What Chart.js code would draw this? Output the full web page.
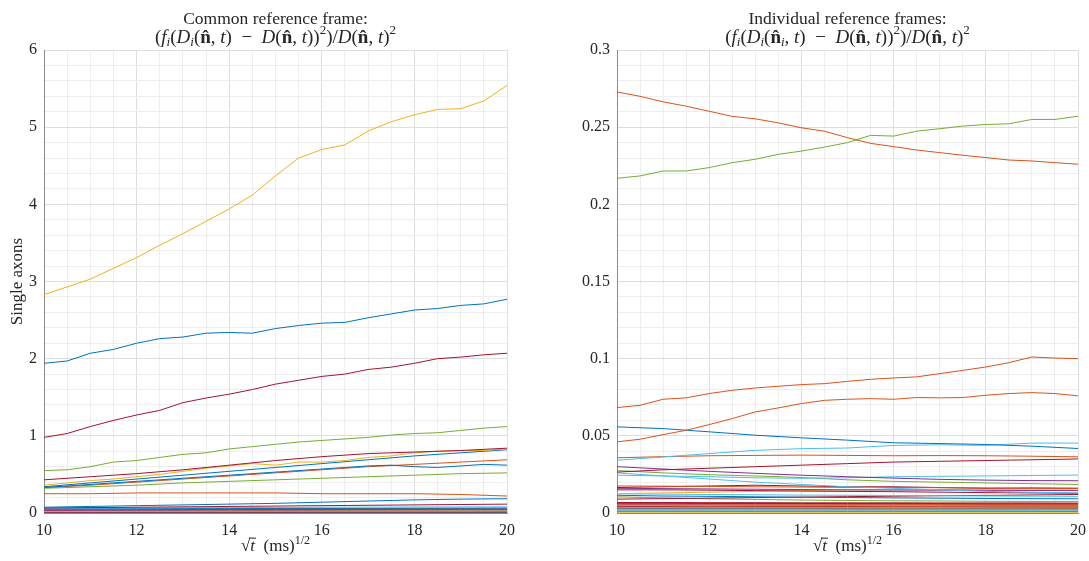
<!DOCTYPE html>
<html>
<head>
<meta charset="utf-8">
<script src="https://cdn.jsdelivr.net/npm/chart.js@4"></script>
<style>
  body { margin: 0; background: #fff; }
  .panel { position: absolute; top: 0; height: 561px; }
</style>
</head>
<body>
<div class="panel" style="left:0;width:545px"><canvas id="leftPlot"></canvas></div>
<div class="panel" style="left:545px;width:544px"><canvas id="rightPlot"></canvas></div>
<script>
// x values (sqrt t), fine grid for the wiggly lines and a coarse one for the flat ones
const xsFine = [10,10.5,11,11.5,12,12.5,13,13.5,14,14.5,15,15.5,16,16.5,17,17.5,18,18.5,19,19.5,20];
const xsCoarse = [10,11,12,13,14,15,16,17,18,19,20];

// left panel: common reference frame
const leftYellowTop = [2.83,2.93,3.03,3.17,3.31,3.47,3.62,3.78,3.94,4.12,4.37,4.60,4.71,4.77,4.95,5.07,5.16,5.23,5.24,5.34,5.54];
const leftBlueTop = [1.94,1.97,2.07,2.12,2.20,2.26,2.28,2.33,2.34,2.33,2.39,2.43,2.46,2.47,2.53,2.58,2.63,2.65,2.69,2.71,2.77];
const leftRedTop = [0.98,1.03,1.12,1.20,1.27,1.33,1.43,1.49,1.54,1.60,1.67,1.72,1.77,1.80,1.86,1.89,1.94,2.00,2.02,2.05,2.07];
const leftGreenTop = [0.55,0.56,0.60,0.66,0.68,0.72,0.76,0.78,0.83,0.86,0.89,0.92,0.94,0.96,0.98,1.01,1.03,1.04,1.07,1.10,1.12];
const leftYellowMid = [0.36,0.39,0.42,0.44,0.47,0.50,0.54,0.58,0.61,0.64,0.62,0.66,0.66,0.68,0.72,0.74,0.78,0.80,0.81,0.81,0.83];
const leftBlueMid2 = [0.33,0.35,0.37,0.39,0.41,0.43,0.45,0.47,0.49,0.51,0.53,0.55,0.57,0.59,0.61,0.62,0.60,0.59,0.61,0.63,0.62];
const leftRedMid = [0.43,0.47,0.51,0.56,0.62,0.68,0.73,0.77,0.79,0.81,0.84];
const leftBlueMid1 = [0.34,0.39,0.44,0.49,0.54,0.59,0.64,0.69,0.74,0.78,0.82];
const leftOrangeMid = [0.33,0.36,0.40,0.44,0.48,0.52,0.56,0.60,0.63,0.66,0.69];
const leftGreenMid = [0.32,0.34,0.36,0.39,0.41,0.43,0.45,0.47,0.49,0.51,0.52];
const leftOrangeFlat = [0.25,0.25,0.26,0.26,0.26,0.26,0.25,0.25,0.25,0.24,0.22];
const leftBlueLow = [0.075,0.085,0.095,0.105,0.115,0.125,0.14,0.155,0.17,0.18,0.185];
const leftRedLow = [0.065,0.07,0.075,0.08,0.085,0.09,0.095,0.10,0.105,0.11,0.115];
const leftBundle = [
  [0.062,0.064,0.066,0.068,0.070,0.072,0.074,0.076,0.078,0.079,0.080],
  [0.055,0.056,0.057,0.058,0.059,0.060,0.060,0.061,0.062,0.062,0.063],
  [0.048,0.050,0.051,0.053,0.054,0.056,0.057,0.058,0.060,0.061,0.062],
  [0.042,0.043,0.044,0.045,0.046,0.047,0.048,0.049,0.050,0.051,0.052],
  [0.035,0.036,0.036,0.037,0.038,0.038,0.039,0.040,0.040,0.041,0.041],
  [0.028,0.029,0.030,0.031,0.032,0.032,0.033,0.034,0.035,0.036,0.037],
  [0.022,0.022,0.023,0.023,0.024,0.024,0.025,0.025,0.026,0.026,0.027],
  [0.016,0.016,0.017,0.017,0.017,0.018,0.018,0.018,0.019,0.019,0.019],
  [0.011,0.011,0.012,0.012,0.012,0.012,0.013,0.013,0.013,0.013,0.014],
  [0.007,0.007,0.007,0.008,0.008,0.008,0.008,0.008,0.009,0.009,0.009],
  [0.004,0.004,0.004,0.004,0.005,0.005,0.005,0.005,0.005,0.005,0.005],
  [0.002,0.002,0.002,0.002,0.002,0.002,0.002,0.003,0.003,0.003,0.003],
  [0.001,0.001,0.001,0.001,0.001,0.001,0.001,0.001,0.001,0.001,0.001]
];
const leftBundleColors = ['#4DBEEE','#0072BD','#D95319','#A2142F','#7E2F8E','#EDB120','#4DBEEE','#D95319','#A2142F','#0072BD','#EDB120','#77AC30','#77AC30'];

// right panel: individual reference frames
const rightOrangeTop = [0.2728,0.2700,0.2664,0.2636,0.2603,0.2570,0.2554,0.2528,0.2496,0.2474,0.2432,0.2395,0.2374,0.2352,0.2335,0.2318,0.2303,0.2287,0.2281,0.2270,0.2260];
const rightGreenTop = [0.2169,0.2184,0.2216,0.2216,0.2238,0.2270,0.2292,0.2324,0.2345,0.2371,0.2400,0.2447,0.2442,0.2474,0.2490,0.2507,0.2517,0.2522,0.2550,0.2550,0.2571];
const rightOrangeA = [0.0683,0.0698,0.0737,0.0746,0.0774,0.0795,0.0810,0.0821,0.0832,0.0838,0.0853,0.0866,0.0875,0.0882,0.0903,0.0924,0.0946,0.0974,0.1011,0.1004,0.1000];
const rightOrangeB = [0.0461,0.0478,0.0508,0.0536,0.0573,0.0612,0.0655,0.0681,0.0709,0.0730,0.0737,0.0741,0.0737,0.0748,0.0746,0.0748,0.0763,0.0774,0.0780,0.0774,0.0759];
const rightBlue = [0.0558,0.0547,0.0526,0.0504,0.0487,0.0472,0.0455,0.0450,0.0444,0.0433,0.0418];
const rightLightBlue = [0.0342,0.0363,0.0385,0.0406,0.0417,0.0421,0.0438,0.0442,0.0438,0.0453,0.0453];
const rightOrangeC = [0.0358,0.0365,0.0371,0.0373,0.0375,0.0373,0.0371,0.0372,0.0371,0.0368,0.0364];
const rightRed = [0.0265,0.0280,0.0290,0.0300,0.0310,0.0320,0.0330,0.0335,0.0340,0.0345,0.0350];
const rightPurple = [0.0300,0.0285,0.0270,0.0257,0.0245,0.0235,0.0226,0.0218,0.0213,0.0210,0.0209];
const rightLightBlue2 = [0.0245,0.0240,0.0235,0.0228,0.0225,0.0228,0.0235,0.0238,0.0240,0.0243,0.0246];
const rightGreen = [0.0275,0.0260,0.0248,0.0240,0.0230,0.0215,0.0205,0.0200,0.0195,0.0190,0.0185];
const rightLightBlue3 = [0.0260,0.0240,0.0220,0.0200,0.0185,0.0170,0.0160,0.0150,0.0140,0.0135,0.0130];
const rightOrange2 = [0.0175,0.0174,0.0172,0.0170,0.0168,0.0166,0.0165,0.0164,0.0162,0.0161,0.0160];
const rightRed2 = [0.0165,0.0170,0.0175,0.0180,0.0175,0.0170,0.0170,0.0165,0.0160,0.0162,0.0160];
const rightPurple2 = [0.0160,0.0158,0.0156,0.0154,0.0152,0.0150,0.0149,0.0148,0.0147,0.0146,0.0145];
const rightRed3 = [0.0150,0.0150,0.0148,0.0145,0.0142,0.0140,0.0138,0.0135,0.0132,0.0130,0.0128];
const rightYellow = [0.0125,0.0130,0.0135,0.0140,0.0145,0.0150,0.0150,0.0152,0.0155,0.0155,0.0155];
const rightLightBlue4 = [0.0125,0.0122,0.0120,0.0118,0.0116,0.0115,0.0114,0.0112,0.0110,0.0109,0.0108];
const rightBlue2 = [0.0115,0.0110,0.0108,0.0105,0.0102,0.0100,0.0098,0.0096,0.0094,0.0093,0.0092];
const rightRed4 = [0.0090,0.0093,0.0096,0.0100,0.0103,0.0106,0.0109,0.0112,0.0114,0.0117,0.0120];
const rightGreen2 = [0.0105,0.0098,0.0092,0.0088,0.0084,0.0081,0.0079,0.0078,0.0076,0.0075,0.0075];
const rightBundle = [
  [0.0068,0.0068,0.0067,0.0067,0.0066,0.0066,0.0066,0.0065,0.0065,0.0065,0.0064],
  [0.0063,0.0063,0.0062,0.0062,0.0062,0.0061,0.0061,0.0061,0.0060,0.0060,0.0060],
  [0.0058,0.0058,0.0058,0.0057,0.0057,0.0057,0.0057,0.0056,0.0056,0.0056,0.0056],
  [0.0053,0.0053,0.0053,0.0052,0.0052,0.0052,0.0052,0.0052,0.0051,0.0051,0.0051],
  [0.0048,0.0048,0.0047,0.0047,0.0047,0.0047,0.0046,0.0046,0.0046,0.0046,0.0046],
  [0.0043,0.0043,0.0043,0.0042,0.0042,0.0042,0.0042,0.0042,0.0041,0.0041,0.0041],
  [0.0038,0.0038,0.0038,0.0038,0.0037,0.0037,0.0037,0.0037,0.0037,0.0036,0.0036],
  [0.0033,0.0033,0.0033,0.0033,0.0032,0.0032,0.0032,0.0032,0.0032,0.0032,0.0031],
  [0.0028,0.0028,0.0028,0.0028,0.0028,0.0027,0.0027,0.0027,0.0027,0.0027,0.0027],
  [0.0023,0.0023,0.0023,0.0023,0.0023,0.0023,0.0022,0.0022,0.0022,0.0022,0.0022],
  [0.0018,0.0018,0.0018,0.0018,0.0018,0.0018,0.0018,0.0017,0.0017,0.0017,0.0017],
  [0.0013,0.0013,0.0013,0.0013,0.0013,0.0013,0.0013,0.0013,0.0013,0.0012,0.0012],
  [0.0009,0.0009,0.0009,0.0009,0.0009,0.0009,0.0009,0.0009,0.0009,0.0009,0.0009],
  [0.0005,0.0005,0.0005,0.0005,0.0005,0.0005,0.0005,0.0005,0.0005,0.0005,0.0005]
];
const rightBundleColors = ['#A2142F','#A2142F','#D95319','#7E2F8E','#EDB120','#A2142F','#77AC30','#D95319','#0072BD','#EDB120','#4DBEEE','#D95319','#77AC30','#EDB120'];

const FONT = "'Liberation Serif', 'DejaVu Serif', serif";
const TEXT = '#262626';

// pieces of rich text (italic / bold / sub / sup / overline)
const it = t => ({t, i: true});
const bf = t => ({t, b: true});
const rm = t => ({t});
const sub = t => ({t, i: true, sub: true});
const sup = t => ({t, sup: true});
const ov = t => ({t, i: true, over: true});

const leftTitle2 = [rm('('), it('f'), sub('i'), rm('('), it('D'), sub('i'), rm('('), bf('n\u0302'), rm(', '), it('t'), rm(')  \u2212  '), it('D'), rm('('), bf('n\u0302'), rm(', '), it('t'), rm('))'), sup('2'), rm(')/'), it('D'), rm('('), bf('n\u0302'), rm(', '), it('t'), rm(')'), sup('2')];
const rightTitle2 = [rm('('), it('f'), sub('i'), rm('('), it('D'), sub('i'), rm('('), bf('n\u0302'), sub('i'), rm(', '), it('t'), rm(')  \u2212  '), it('D'), rm('('), bf('n\u0302'), rm(', '), it('t'), rm('))'), sup('2'), rm(')/'), it('D'), rm('('), bf('n\u0302'), rm(', '), it('t'), rm(')'), sup('2')];
const xLabel = [rm('\u221A'), ov('t'), rm('  (ms)'), sup('1/2')];

function drawRich(ctx, segs, cx, cy, size) {
    let total = 0;
    const parts = segs.map(s => {
        const sz = (s.sub || s.sup) ? Math.round(size * 0.7) : size;
        const font = (s.i ? 'italic ' : '') + (s.b ? 'bold ' : '') + sz + 'px ' + FONT;
        ctx.font = font;
        const w = ctx.measureText(s.t).width;
        total += w;
        return {t: s.t, font, w, over: s.over, dy: s.sub ? size * 0.25 : (s.sup ? -size * 0.38 : 0)};
    });
    let x = cx - total / 2;
    ctx.textAlign = 'left';
    ctx.textBaseline = 'middle';
    parts.forEach(p => {
        ctx.font = p.font;
        ctx.fillText(p.t, x, cy + p.dy);
        if (p.over) {
            ctx.fillRect(x - 1, cy - size * 0.55, p.w + 2, 1);
        }
        x += p.w;
    });
}

const richText = {
    id: 'richText',
    afterDraw(chart, args, opts) {
        const ctx = chart.ctx;
        const area = chart.chartArea;
        const cx = (area.left + area.right) / 2;
        ctx.save();
        ctx.fillStyle = TEXT;
        ctx.font = '17.5px ' + FONT;
        ctx.textAlign = 'center';
        ctx.textBaseline = 'middle';
        ctx.fillText(opts.title1, cx, 19);
        drawRich(ctx, opts.title2, cx, 38, 19);
        drawRich(ctx, xLabel, cx, 547, 17);
        if (opts.ylabel) {
            ctx.translate(18, (area.top + area.bottom) / 2);
            ctx.rotate(-Math.PI / 2);
            ctx.font = '17px ' + FONT;
            ctx.textAlign = 'center';
            ctx.fillText(opts.ylabel, 0, 0);
        }
        ctx.restore();
    }
};

function line(xs, ys, color) {
    return {
        data: xs.map((x, k) => ({x: x, y: ys[k]})),
        borderColor: color,
        borderWidth: 1,
        pointRadius: 0,
        tension: 0,
        fill: false
    };
}

function isMultiple(v, step) {
    return Math.abs(v / step - Math.round(v / step)) < 1e-6;
}

function makeOptions(yMax, yStep, yMajor, yWidth, padRight, texts) {
    return {
        responsive: true,
        maintainAspectRatio: false,
        animation: false,
        layout: {padding: {top: 50, right: padRight, left: 0, bottom: 0}},
        plugins: {legend: {display: false}, tooltip: {enabled: false}, richText: texts},
        scales: {
            x: {
                type: 'linear', min: 10, max: 20,
                afterFit: s => { s.height = 48; s.paddingLeft = 0; s.paddingRight = 0; },
                border: {display: true, color: '#8a8a8a'},
                grid: {drawTicks: false, color: c => isMultiple(c.tick.value, 2) ? '#dedede' : '#eeeeee'},
                ticks: {
                    stepSize: 0.5, autoSkip: false, maxRotation: 0, padding: 8,
                    color: TEXT, font: {family: FONT, size: 16},
                    callback: v => isMultiple(v, 2) ? String(v) : ''
                }
            },
            y: {
                min: 0, max: yMax,
                afterFit: s => { s.width = yWidth; s.paddingTop = 0; s.paddingBottom = 0; },
                border: {display: true, color: '#8a8a8a'},
                grid: {drawTicks: false, color: c => isMultiple(c.tick.value, yMajor) ? '#dedede' : '#eeeeee'},
                ticks: {
                    stepSize: yStep, autoSkip: false, padding: 7,
                    color: TEXT, font: {family: FONT, size: 16},
                    callback: v => isMultiple(v, yMajor) ? String(parseFloat(v.toFixed(2))) : ''
                }
            }
        }
    };
}

let leftSets = [
    line(xsFine, leftYellowTop, '#EDB120'),
    line(xsFine, leftBlueTop, '#0072BD'),
    line(xsFine, leftRedTop, '#A2142F'),
    line(xsFine, leftGreenTop, '#77AC30'),
    line(xsCoarse, leftRedMid, '#A2142F'),
    line(xsFine, leftYellowMid, '#EDB120'),
    line(xsCoarse, leftBlueMid1, '#0072BD'),
    line(xsFine, leftBlueMid2, '#0072BD'),
    line(xsCoarse, leftOrangeMid, '#D95319'),
    line(xsCoarse, leftGreenMid, '#77AC30'),
    line(xsCoarse, leftOrangeFlat, '#D95319'),
    line(xsCoarse, leftBlueLow, '#0072BD'),
    line(xsCoarse, leftRedLow, '#A2142F')
];
leftBundle.forEach((ys, k) => leftSets.push(line(xsCoarse, ys, leftBundleColors[k])));

let rightSets = [
    line(xsFine, rightOrangeTop, '#D95319'),
    line(xsFine, rightGreenTop, '#77AC30'),
    line(xsFine, rightOrangeA, '#D95319'),
    line(xsFine, rightOrangeB, '#D95319'),
    line(xsCoarse, rightBlue, '#0072BD'),
    line(xsCoarse, rightLightBlue, '#4DBEEE'),
    line(xsCoarse, rightOrangeC, '#D95319'),
    line(xsCoarse, rightRed, '#A2142F'),
    line(xsCoarse, rightPurple, '#7E2F8E'),
    line(xsCoarse, rightLightBlue2, '#4DBEEE'),
    line(xsCoarse, rightGreen, '#77AC30'),
    line(xsCoarse, rightLightBlue3, '#4DBEEE'),
    line(xsCoarse, rightOrange2, '#D95319'),
    line(xsCoarse, rightRed2, '#A2142F'),
    line(xsCoarse, rightPurple2, '#7E2F8E'),
    line(xsCoarse, rightRed3, '#A2142F'),
    line(xsCoarse, rightYellow, '#EDB120'),
    line(xsCoarse, rightLightBlue4, '#4DBEEE'),
    line(xsCoarse, rightBlue2, '#0072BD'),
    line(xsCoarse, rightRed4, '#A2142F'),
    line(xsCoarse, rightGreen2, '#77AC30')
];
rightBundle.forEach((ys, k) => rightSets.push(line(xsCoarse, ys, rightBundleColors[k])));

new Chart(document.getElementById('leftPlot').getContext('2d'), {
    type: 'line',
    data: {datasets: leftSets},
    options: makeOptions(6, 0.2, 1, 44, 38, {title1: 'Common reference frame:', title2: leftTitle2, ylabel: 'Single axons'}),
    plugins: [richText]
});

new Chart(document.getElementById('rightPlot').getContext('2d'), {
    type: 'line',
    data: {datasets: rightSets},
    options: makeOptions(0.3, 0.01, 0.05, 72, 11, {title1: 'Individual reference frames:', title2: rightTitle2, ylabel: ''}),
    plugins: [richText]
});
</script>
</body>
</html>
